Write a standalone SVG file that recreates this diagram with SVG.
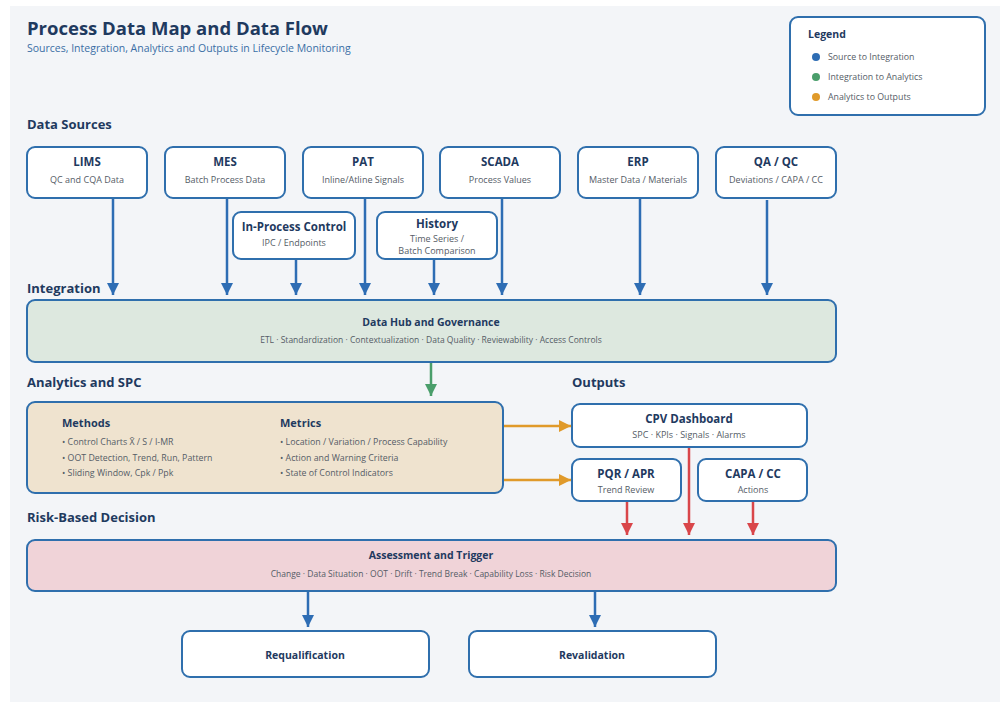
<svg xmlns="http://www.w3.org/2000/svg" width="1000" height="702" viewBox="0 0 1000 702">
<defs>
<marker id="ab" viewBox="0 0 10 10" refX="10" refY="5" markerWidth="5" markerHeight="5" markerUnits="strokeWidth" orient="auto"><path d="M0,0 L10,5 L0,10 z" fill="#2e6db4"/></marker>
<marker id="ag" viewBox="0 0 10 10" refX="10" refY="5" markerWidth="5" markerHeight="5" markerUnits="strokeWidth" orient="auto"><path d="M0,0 L10,5 L0,10 z" fill="#4a9e6b"/></marker>
<marker id="ao" viewBox="0 0 10 10" refX="10" refY="5" markerWidth="5" markerHeight="5" markerUnits="strokeWidth" orient="auto"><path d="M0,0 L10,5 L0,10 z" fill="#e09a2a"/></marker>
<marker id="ar" viewBox="0 0 10 10" refX="10" refY="5" markerWidth="5" markerHeight="5" markerUnits="strokeWidth" orient="auto"><path d="M0,0 L10,5 L0,10 z" fill="#d9464a"/></marker>
</defs>
<style>
text{font-family:"Open Sans","Noto Sans","Liberation Sans",sans-serif}
.box{fill:#ffffff;stroke:#2f6fad;stroke-width:2}
.t{font-size:11.5px;font-weight:700;fill:#1f3a5f;text-anchor:middle}
.s{font-size:9px;fill:#555c66;text-anchor:middle}
.h{font-size:13px;font-weight:700;fill:#1f3a5f}
.bl{font-size:8.8px;fill:#555c66}
.cb{stroke:#2e6db4;stroke-width:2.5;fill:none;marker-end:url(#ab)}
.cg{stroke:#4a9e6b;stroke-width:2.5;fill:none;marker-end:url(#ag)}
.co{stroke:#e09a2a;stroke-width:2.5;fill:none;marker-end:url(#ao)}
.cr{stroke:#d9464a;stroke-width:2.5;fill:none;marker-end:url(#ar)}
</style>
<rect x="10" y="6" width="990" height="696" fill="#f3f5f8"/>
<text x="27" y="35" style="font-size:18.5px;font-weight:700;fill:#1f3a5f">Process Data Map and Data Flow</text>
<text x="27" y="52" style="font-size:10.5px;fill:#3a6ea5">Sources, Integration, Analytics and Outputs in Lifecycle Monitoring</text>

<g id="legend">
<rect x="790" y="17" width="195" height="98" rx="8" class="box"/>
<text x="808" y="38" style="font-size:10.5px;font-weight:700;fill:#1f3a5f">Legend</text>
<circle cx="816" cy="57" r="4" fill="#2e6db4"/>
<text x="828" y="60" class="bl">Source to Integration</text>
<circle cx="816" cy="77" r="4" fill="#4a9e6b"/>
<text x="828" y="80" class="bl">Integration to Analytics</text>
<circle cx="816" cy="97" r="4" fill="#e09a2a"/>
<text x="828" y="100" class="bl">Analytics to Outputs</text>
</g>

<text x="27" y="129" class="h">Data Sources</text>
<text x="27" y="293" class="h">Integration</text>
<text x="27" y="387" class="h">Analytics and SPC</text>
<text x="572" y="387" class="h">Outputs</text>
<text x="27" y="522" class="h">Risk-Based Decision</text>

<g id="connectors">
<path d="M113,198 V295" class="cb"/>
<path d="M227,198 V295" class="cb"/>
<path d="M296,259 V295" class="cb"/>
<path d="M365,198 V295" class="cb"/>
<path d="M434,259 V295" class="cb"/>
<path d="M502,198 V295" class="cb"/>
<path d="M640,198 V295" class="cb"/>
<path d="M767,200 V295" class="cb"/>
<path d="M431,362 V396" class="cg"/>
<path d="M503,426 H571" class="co"/>
<path d="M503,480 H571" class="co"/>
<path d="M627,501 V535" class="cr"/>
<path d="M689,447 V535" class="cr"/>
<path d="M753,501 V535" class="cr"/>
<path d="M308,591 V627" class="cb"/>
<path d="M595,591 V627" class="cb"/>
</g>

<g id="lims"><rect x="27" y="147" width="120" height="51" rx="8" class="box"/><text x="87" y="166" class="t">LIMS</text><text x="87" y="183" class="s">QC and CQA Data</text></g>
<g id="mes"><rect x="165" y="147" width="120" height="51" rx="8" class="box"/><text x="225" y="166" class="t">MES</text><text x="225" y="183" class="s">Batch Process Data</text></g>
<g id="pat"><rect x="303" y="147" width="120" height="51" rx="8" class="box"/><text x="363" y="166" class="t">PAT</text><text x="363" y="183" class="s">Inline/Atline Signals</text></g>
<g id="scada"><rect x="440" y="147" width="120" height="51" rx="8" class="box"/><text x="500" y="166" class="t">SCADA</text><text x="500" y="183" class="s">Process Values</text></g>
<g id="erp"><rect x="578" y="147" width="120" height="51" rx="8" class="box"/><text x="638" y="166" class="t">ERP</text><text x="638" y="183" class="s">Master Data / Materials</text></g>
<g id="qaqc"><rect x="716" y="147" width="120" height="51" rx="8" class="box"/><text x="776" y="166" class="t">QA / QC</text><text x="776" y="183" class="s">Deviations / CAPA / CC</text></g>
<g id="ipc"><rect x="233" y="212" width="122" height="47" rx="8" class="box"/><text x="294" y="231" class="t">In-Process Control</text><text x="294" y="246" class="s">IPC / Endpoints</text></g>
<g id="history"><rect x="377" y="212" width="120" height="47" rx="8" class="box"/><text x="437" y="228" class="t">History</text><text x="437" y="242" class="s">Time Series /</text><text x="437" y="254" class="s">Batch Comparison</text></g>

<g id="hub"><rect x="27" y="300" width="809" height="62" rx="8" fill="#dde8df" stroke="#2f6fad" stroke-width="2"/><text x="431" y="326" class="t" style="font-size:10.5px">Data Hub and Governance</text><text x="431" y="343" class="s" style="font-size:8.5px">ETL · Standardization · Contextualization · Data Quality · Reviewability · Access Controls</text></g>

<g id="analytics"><rect x="27" y="402" width="476" height="91" rx="8" fill="#efe3cf" stroke="#2f6fad" stroke-width="2"/>
<text x="62" y="427" style="font-size:11px;font-weight:700;fill:#1f3a5f">Methods</text>
<text x="62" y="445" class="bl">• Control Charts X̄ / S / I-MR</text>
<text x="62" y="461" class="bl">• OOT Detection, Trend, Run, Pattern</text>
<text x="62" y="476" class="bl">• Sliding Window, Cpk / Ppk</text>
<text x="280" y="427" style="font-size:11px;font-weight:700;fill:#1f3a5f">Metrics</text>
<text x="280" y="445" class="bl">• Location / Variation / Process Capability</text>
<text x="280" y="461" class="bl">• Action and Warning Criteria</text>
<text x="280" y="476" class="bl">• State of Control Indicators</text>
</g>

<g id="cpv"><rect x="572" y="404" width="235" height="43" rx="8" class="box"/><text x="689" y="423" class="t">CPV Dashboard</text><text x="689" y="438" class="s">SPC · KPIs · Signals · Alarms</text></g>
<g id="pqr"><rect x="572" y="459" width="109" height="42" rx="8" class="box"/><text x="626" y="478" class="t">PQR / APR</text><text x="626" y="493" class="s">Trend Review</text></g>
<g id="capa"><rect x="698" y="459" width="109" height="42" rx="8" class="box"/><text x="753" y="478" class="t">CAPA / CC</text><text x="753" y="493" class="s">Actions</text></g>

<g id="assessment"><rect x="27" y="540" width="809" height="51" rx="8" fill="#f0d3d8" stroke="#2f6fad" stroke-width="2"/><text x="431" y="559" class="t" style="font-size:10.5px">Assessment and Trigger</text><text x="431" y="577" class="s" style="font-size:8.5px">Change · Data Situation · OOT · Drift · Trend Break · Capability Loss · Risk Decision</text></g>

<g id="requal"><rect x="182" y="631" width="247" height="46" rx="8" class="box"/><text x="305" y="659" class="t" style="font-size:10.5px">Requalification</text></g>
<g id="reval"><rect x="469" y="631" width="247" height="46" rx="8" class="box"/><text x="592" y="659" class="t" style="font-size:10.5px">Revalidation</text></g>
</svg>
